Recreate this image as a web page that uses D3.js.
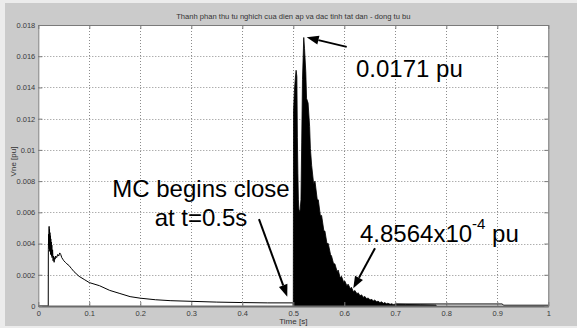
<!DOCTYPE html>
<html>
<head>
<meta charset="utf-8">
<script src="https://cdn.jsdelivr.net/npm/d3@7/dist/d3.min.js"></script>
<style>
  body { margin: 0; background: #ececec; }
  svg { display: block; font-family: "Liberation Sans", Arial, sans-serif; }
</style>
</head>
<body>
<svg id="chart" width="577" height="328"></svg>
<script>
// axis ticks
const xTicks = [0, 0.1, 0.2, 0.3, 0.4, 0.5, 0.6, 0.7, 0.8, 0.9, 1];
const xTickLabels = ["0", "0.1", "0.2", "0.3", "0.4", "0.5", "0.6", "0.7", "0.8", "0.9", "1"];
const yTicks = [0, 0.002, 0.004, 0.006, 0.008, 0.01, 0.012, 0.014, 0.016, 0.018];
const yTickLabels = ["0", "0.002", "0.004", "0.006", "0.008", "0.01", "0.012", "0.014", "0.016", "0.018"];

// negative sequence voltage before the capacitor closes
const preTime = [0, 0.0195, 0.0197, 0.0203, 0.0208, 0.0212, 0.0216, 0.022, 0.0224, 0.0228, 0.0232, 0.0236,
  0.024, 0.0245, 0.025, 0.0255, 0.026, 0.0265, 0.027, 0.028, 0.029, 0.030, 0.031, 0.032, 0.033, 0.034,
  0.036, 0.038, 0.040, 0.042, 0.044, 0.046, 0.048, 0.050, 0.053, 0.056, 0.060, 0.065, 0.070, 0.080,
  0.090, 0.100, 0.120, 0.140, 0.160, 0.180, 0.200, 0.230, 0.260, 0.300, 0.350, 0.400, 0.450, 0.499];
const preVne = [0, 0, 0.0036, 0.0046, 0.0039, 0.0051, 0.0037, 0.0049, 0.0035, 0.0047, 0.0036, 0.0045,
  0.0033, 0.0043, 0.0034, 0.0041, 0.0032, 0.0039, 0.0031, 0.0036, 0.0029, 0.0032, 0.0028, 0.0031, 0.0030, 0.0032,
  0.0031, 0.0033, 0.0032, 0.0034, 0.0033, 0.0031, 0.0030, 0.0029, 0.0028, 0.0027, 0.0026, 0.0024, 0.0022, 0.0019,
  0.0017, 0.0015, 0.0013, 0.0010, 0.0008, 0.0006, 0.0005, 0.0004, 0.00034, 0.0003, 0.00025, 0.00022, 0.0002, 0.0002];

// oscillation envelope after MC closes at t = 0.5 s
const mcTime = [0.4995, 0.5, 0.5005, 0.502, 0.504, 0.5055, 0.507, 0.508, 0.509, 0.510, 0.511, 0.513, 0.515,
  0.5165, 0.518, 0.5205, 0.522, 0.5245, 0.526, 0.529, 0.532, 0.5335,
  0.536, 0.540, 0.5425, 0.547, 0.549, 0.553, 0.5555, 0.560, 0.562, 0.566, 0.5685, 0.573, 0.575, 0.579,
  0.5815, 0.586, 0.588, 0.592, 0.5945, 0.599, 0.601, 0.605, 0.6075, 0.612, 0.614, 0.618, 0.6205, 0.625,
  0.627, 0.631, 0.6335, 0.638, 0.640, 0.644, 0.6465, 0.651, 0.653, 0.657, 0.6595, 0.664, 0.666, 0.670,
  0.6725, 0.677, 0.679, 0.683, 0.6855, 0.690, 0.692, 0.696, 0.700, 0.720, 0.750, 0.780];
const mcVne = [0.0002, 0.0002, 0.0125, 0.0137, 0.0146, 0.0151, 0.0147, 0.0108, 0.0085, 0.0068, 0.0062, 0.0060, 0.0068,
  0.0105, 0.0145, 0.0172, 0.0165, 0.0150, 0.0133, 0.0130, 0.0115, 0.0101,
  0.0090, 0.0078, 0.0080, 0.0068, 0.0068, 0.0058, 0.0058, 0.0048, 0.0048, 0.0040, 0.0040, 0.0033, 0.0032, 0.0027,
  0.0027, 0.0022, 0.0023, 0.0018, 0.0019, 0.0015, 0.0016, 0.0013, 0.0014, 0.0011, 0.0012, 0.0009, 0.0010, 0.00078,
  0.00085, 0.00065, 0.00072, 0.00055, 0.00062, 0.00046, 0.00052, 0.00038, 0.00045, 0.00032, 0.00038, 0.00026, 0.00032, 0.00021,
  0.00027, 0.00017, 0.00022, 0.00014, 0.00018, 0.00011, 0.00015, 0.0001, 0.00012, 0.0001, 0.00008, 0.00006];

// residual level to the end of the run
const tailTime = [0.70, 0.91, 0.912, 1.0];
const tailVne = [0.00013, 0.00013, 0.00005, 0.00005];

// annotations: arrow tail -> tip in data units
const arrows = [
  { from: [0.6047, 0.0166], to: [0.5263, 0.01721] },
  { from: [0.4327, 0.00557], to: [0.4882, 0.0006] },
  { from: [0.6602, 0.0037], to: [0.6176, 0.00113] }
];

const svg = d3.select("#chart");
const W = 577, H = 328;
const mLeft = 38.3, mRight = 548.3, mTop = 25, mBottom = 306;

const x = d3.scaleLinear().domain([0, 1]).range([mLeft, mRight]);
const y = d3.scaleLinear().domain([0, 0.018]).range([mBottom, mTop]);

// figure background
svg.append("rect").attr("x", 5).attr("y", 3).attr("width", W - 5).attr("height", H - 5).attr("fill", "#cbcbcb");
svg.append("rect").attr("x", mLeft).attr("y", mTop).attr("width", mRight - mLeft).attr("height", mBottom - mTop)
  .attr("fill", "#fff");

// grid
const grid = svg.append("g").attr("stroke", "#6f6f6f").attr("stroke-width", 0.8).attr("stroke-dasharray", "1,2");
grid.selectAll(".gx").data(xTicks.slice(1, -1)).enter().append("line")
  .attr("x1", d => Math.round(x(d)) + 0.5).attr("x2", d => Math.round(x(d)) + 0.5)
  .attr("y1", mTop).attr("y2", mBottom);
grid.selectAll(".gy").data(yTicks.slice(1, -1)).enter().append("line")
  .attr("y1", d => Math.round(y(d)) + 0.5).attr("y2", d => Math.round(y(d)) + 0.5)
  .attr("x1", mLeft).attr("x2", mRight);

// data
const line = d3.line().x(d => x(d[0])).y(d => y(d[1]));
const area = d3.area().x(d => x(d[0])).y0(y(0)).y1(d => y(d[1]));

svg.append("path")
  .attr("d", line(d3.zip(preTime, preVne)))
  .attr("fill", "none").attr("stroke", "#000").attr("stroke-width", 1);

svg.append("path")
  .attr("d", area(d3.zip(mcTime, mcVne)))
  .attr("fill", "#000").attr("stroke", "#000").attr("stroke-width", 0.8);

svg.append("path")
  .attr("d", line(d3.zip(tailTime, tailVne)))
  .attr("fill", "none").attr("stroke", "#000").attr("stroke-width", 1);

// axes with inward ticks
const fmtX = (d, i) => xTickLabels[i];
const fmtY = (d, i) => yTickLabels[i];

const axB = svg.append("g").attr("transform", `translate(0,${mBottom})`)
  .call(d3.axisBottom(x).tickValues(xTicks).tickFormat(fmtX).tickSizeInner(-4).tickSizeOuter(0).tickPadding(5));
const axT = svg.append("g").attr("transform", `translate(0,${mTop})`)
  .call(d3.axisTop(x).tickValues(xTicks).tickFormat("").tickSizeInner(-4).tickSizeOuter(0));
const axL = svg.append("g").attr("transform", `translate(${mLeft},0)`)
  .call(d3.axisLeft(y).tickValues(yTicks).tickFormat(fmtY).tickSizeInner(-4).tickSizeOuter(0).tickPadding(3));
const axR = svg.append("g").attr("transform", `translate(${mRight},0)`)
  .call(d3.axisRight(y).tickValues(yTicks).tickFormat("").tickSizeInner(-4).tickSizeOuter(0));

[axB, axT, axL, axR].forEach(g => {
  g.select(".domain").attr("stroke", "#7a7a7a");
  g.selectAll(".tick line").attr("stroke", "#7a7a7a");
  g.selectAll(".tick text").attr("fill", "#3a3a3a").attr("font-size", 7.5)
    .attr("font-family", "'Liberation Sans', Arial, sans-serif");
});
axB.select(".domain").attr("stroke-width", 2).attr("stroke", "#6a6a6a");

// titles
svg.append("text").attr("x", (mLeft + mRight) / 2).attr("y", 19).attr("text-anchor", "middle")
  .attr("font-size", 7.6).attr("fill", "#333")
  .text("Thanh phan thu tu nghich cua dien ap va dac tinh tat dan - dong tu bu");
svg.append("text").attr("x", (mLeft + mRight) / 2).attr("y", 324).attr("text-anchor", "middle")
  .attr("font-size", 8).attr("fill", "#333").text("Time [s]");
svg.append("text").attr("transform", `translate(16,${(mTop + mBottom) / 2 - 4}) rotate(-90)`)
  .attr("text-anchor", "middle").attr("font-size", 8).attr("fill", "#333").text("Vne [pu]");

// annotations
const ann = svg.append("g").attr("fill", "#000");
ann.append("text").attr("x", 356).attr("y", 77).attr("font-size", 24).text("0.0171 pu");
ann.append("text").attr("x", 201).attr("y", 197).attr("text-anchor", "middle").attr("font-size", 24).text("MC begins close");
ann.append("text").attr("x", 201).attr("y", 226).attr("text-anchor", "middle").attr("font-size", 24).text("at t=0.5s");
const t3 = ann.append("text").attr("x", 360).attr("y", 242).attr("font-size", 24);
t3.append("tspan").text("4.8564x10");
t3.append("tspan").attr("dy", -13).attr("font-size", 15).text("-4");
t3.append("tspan").attr("dy", 13).attr("font-size", 24).text(" pu");

arrows.forEach(a => {
  const x0 = x(a.from[0]), y0 = y(a.from[1]), x1 = x(a.to[0]), y1 = y(a.to[1]);
  const ang = Math.atan2(y1 - y0, x1 - x0);
  const L = 12, Wd = 4.5;
  const bx = x1 - L * Math.cos(ang), by = y1 - L * Math.sin(ang);
  ann.append("line").attr("x1", x0).attr("y1", y0).attr("x2", bx).attr("y2", by)
    .attr("stroke", "#000").attr("stroke-width", 2);
  const p = [[x1, y1],
    [bx + Wd * Math.sin(ang), by - Wd * Math.cos(ang)],
    [bx - Wd * Math.sin(ang), by + Wd * Math.cos(ang)]];
  ann.append("path").attr("d", "M" + p.map(q => q.join(",")).join("L") + "Z");
});
</script>
</body>
</html>
